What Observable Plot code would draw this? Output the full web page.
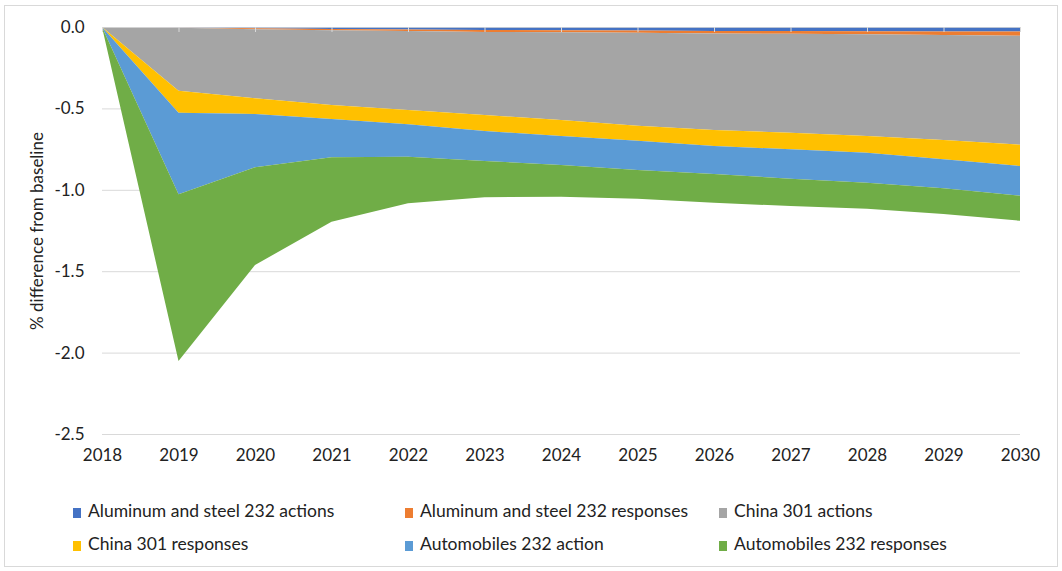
<!DOCTYPE html>
<html>
<head>
<meta charset="utf-8">
<script src="https://cdn.jsdelivr.net/npm/d3@7"></script>
<script src="https://cdn.jsdelivr.net/npm/@observablehq/plot@0.6"></script>
<style>
  html, body { margin: 0; padding: 0; background: #fff; }
  #wrap { position: relative; width: 1062px; height: 571px; font-family: Lato, "Liberation Sans", sans-serif; color: #222; }
  #frame { position: absolute; left: 4px; top: 5px; width: 1052px; height: 560px; border: 1px solid #d9d9d9; pointer-events: none; }
  #chart { position: absolute; left: 0; top: 0; }
  .legend-item { position: absolute; font-size: 17.5px; line-height: 20px; white-space: nowrap; }
  .legend-item i { display: inline-block; width: 8px; height: 10px; margin-right: 7px; vertical-align: -1px; }
</style>
</head>
<body>
<div id="wrap">
  <div id="frame"></div>
  <div id="chart"></div>
  <div id="legend"></div>
</div>
<script>
// Years on the horizontal axis
const years = [2018, 2019, 2020, 2021, 2022, 2023, 2024, 2025, 2026, 2027, 2028, 2029, 2030];

// Contribution of each tariff package to the % difference from baseline
const aluminumSteelActions   = [0, -0.003, -0.008, -0.012, -0.015, -0.018, -0.020, -0.022, -0.024, -0.025, -0.026, -0.027, -0.028];
const aluminumSteelResponses = [0, -0.002, -0.006, -0.008, -0.010, -0.012, -0.013, -0.014, -0.016, -0.017, -0.019, -0.022, -0.026];
const china301Actions        = [0, -0.386, -0.424, -0.459, -0.485, -0.511, -0.538, -0.570, -0.593, -0.607, -0.625, -0.645, -0.669];
const china301Responses      = [0, -0.135, -0.096, -0.086, -0.088, -0.098, -0.099, -0.092, -0.098, -0.102, -0.102, -0.119, -0.131];
const automobiles232Action   = [0, -0.502, -0.328, -0.235, -0.199, -0.184, -0.178, -0.180, -0.172, -0.181, -0.184, -0.178, -0.182];
const automobiles232Responses= [0, -1.024, -0.600, -0.396, -0.286, -0.222, -0.194, -0.177, -0.176, -0.168, -0.160, -0.158, -0.154];

const seriesNames = [
  "Aluminum and steel 232 actions",
  "Aluminum and steel 232 responses",
  "China 301 actions",
  "China 301 responses",
  "Automobiles 232 action",
  "Automobiles 232 responses"
];
const seriesColors = ["#4472C4", "#ED7D31", "#A5A5A5", "#FFC000", "#5B9BD5", "#70AD47"];
const seriesValues = [
  aluminumSteelActions, aluminumSteelResponses, china301Actions,
  china301Responses, automobiles232Action, automobiles232Responses
];

// Y axis tick values
const yTicks = [0, -0.5, -1.0, -1.5, -2.0, -2.5];

// Long-format table for stacking
const rows = [];
seriesNames.forEach((name, s) => {
  years.forEach((year, i) => rows.push({series: name, year, value: seriesValues[s][i]}));
});

const chart = Plot.plot({
  width: 1062,
  height: 480,
  marginTop: 27,
  marginBottom: 46,
  marginLeft: 102,
  marginRight: 42,
  style: {fontFamily: "Lato, 'Liberation Sans', sans-serif", fontSize: "17px", color: "#222", background: "transparent"},
  x: {type: "linear", domain: [2018, 2030]},
  y: {domain: [-2.5, 0]},
  color: {domain: seriesNames, range: seriesColors},
  marks: [
    Plot.ruleY(yTicks.filter(d => d !== 0), {stroke: "#d9d9d9", strokeWidth: 1}),
    Plot.areaY(rows, {x: "year", y: "value", fill: "series", z: "series", order: seriesNames, curve: "linear"}),
    Plot.ruleY([0], {stroke: "#d9d9d9", strokeOpacity: 0.8}),
    Plot.ruleX(years, {x: d => d, y1: 0, y2: 0, insetBottom: -5, stroke: "#d9d9d9"}),
    Plot.axisX({ticks: years, tickFormat: d => String(d), tickSize: 0, tickPadding: 14, label: null}),
    Plot.axisY({ticks: yTicks, tickFormat: d => d.toFixed(1), tickSize: 0, tickPadding: 18,
      label: "% difference from baseline", labelAnchor: "center", labelOffset: 72, labelArrow: "none"})
  ]
});
document.getElementById("chart").appendChild(chart);

// Legend: three columns, two rows
const legendCols = [73, 405, 719];
const legendRows = [501, 534];
const legend = document.getElementById("legend");
seriesNames.forEach((name, i) => {
  const item = document.createElement("div");
  item.className = "legend-item";
  item.style.left = legendCols[i % 3] + "px";
  item.style.top = legendRows[Math.floor(i / 3)] + "px";
  const sw = document.createElement("i");
  sw.style.background = seriesColors[i];
  item.appendChild(sw);
  item.appendChild(document.createTextNode(name));
  legend.appendChild(item);
});
</script>
</body>
</html>
